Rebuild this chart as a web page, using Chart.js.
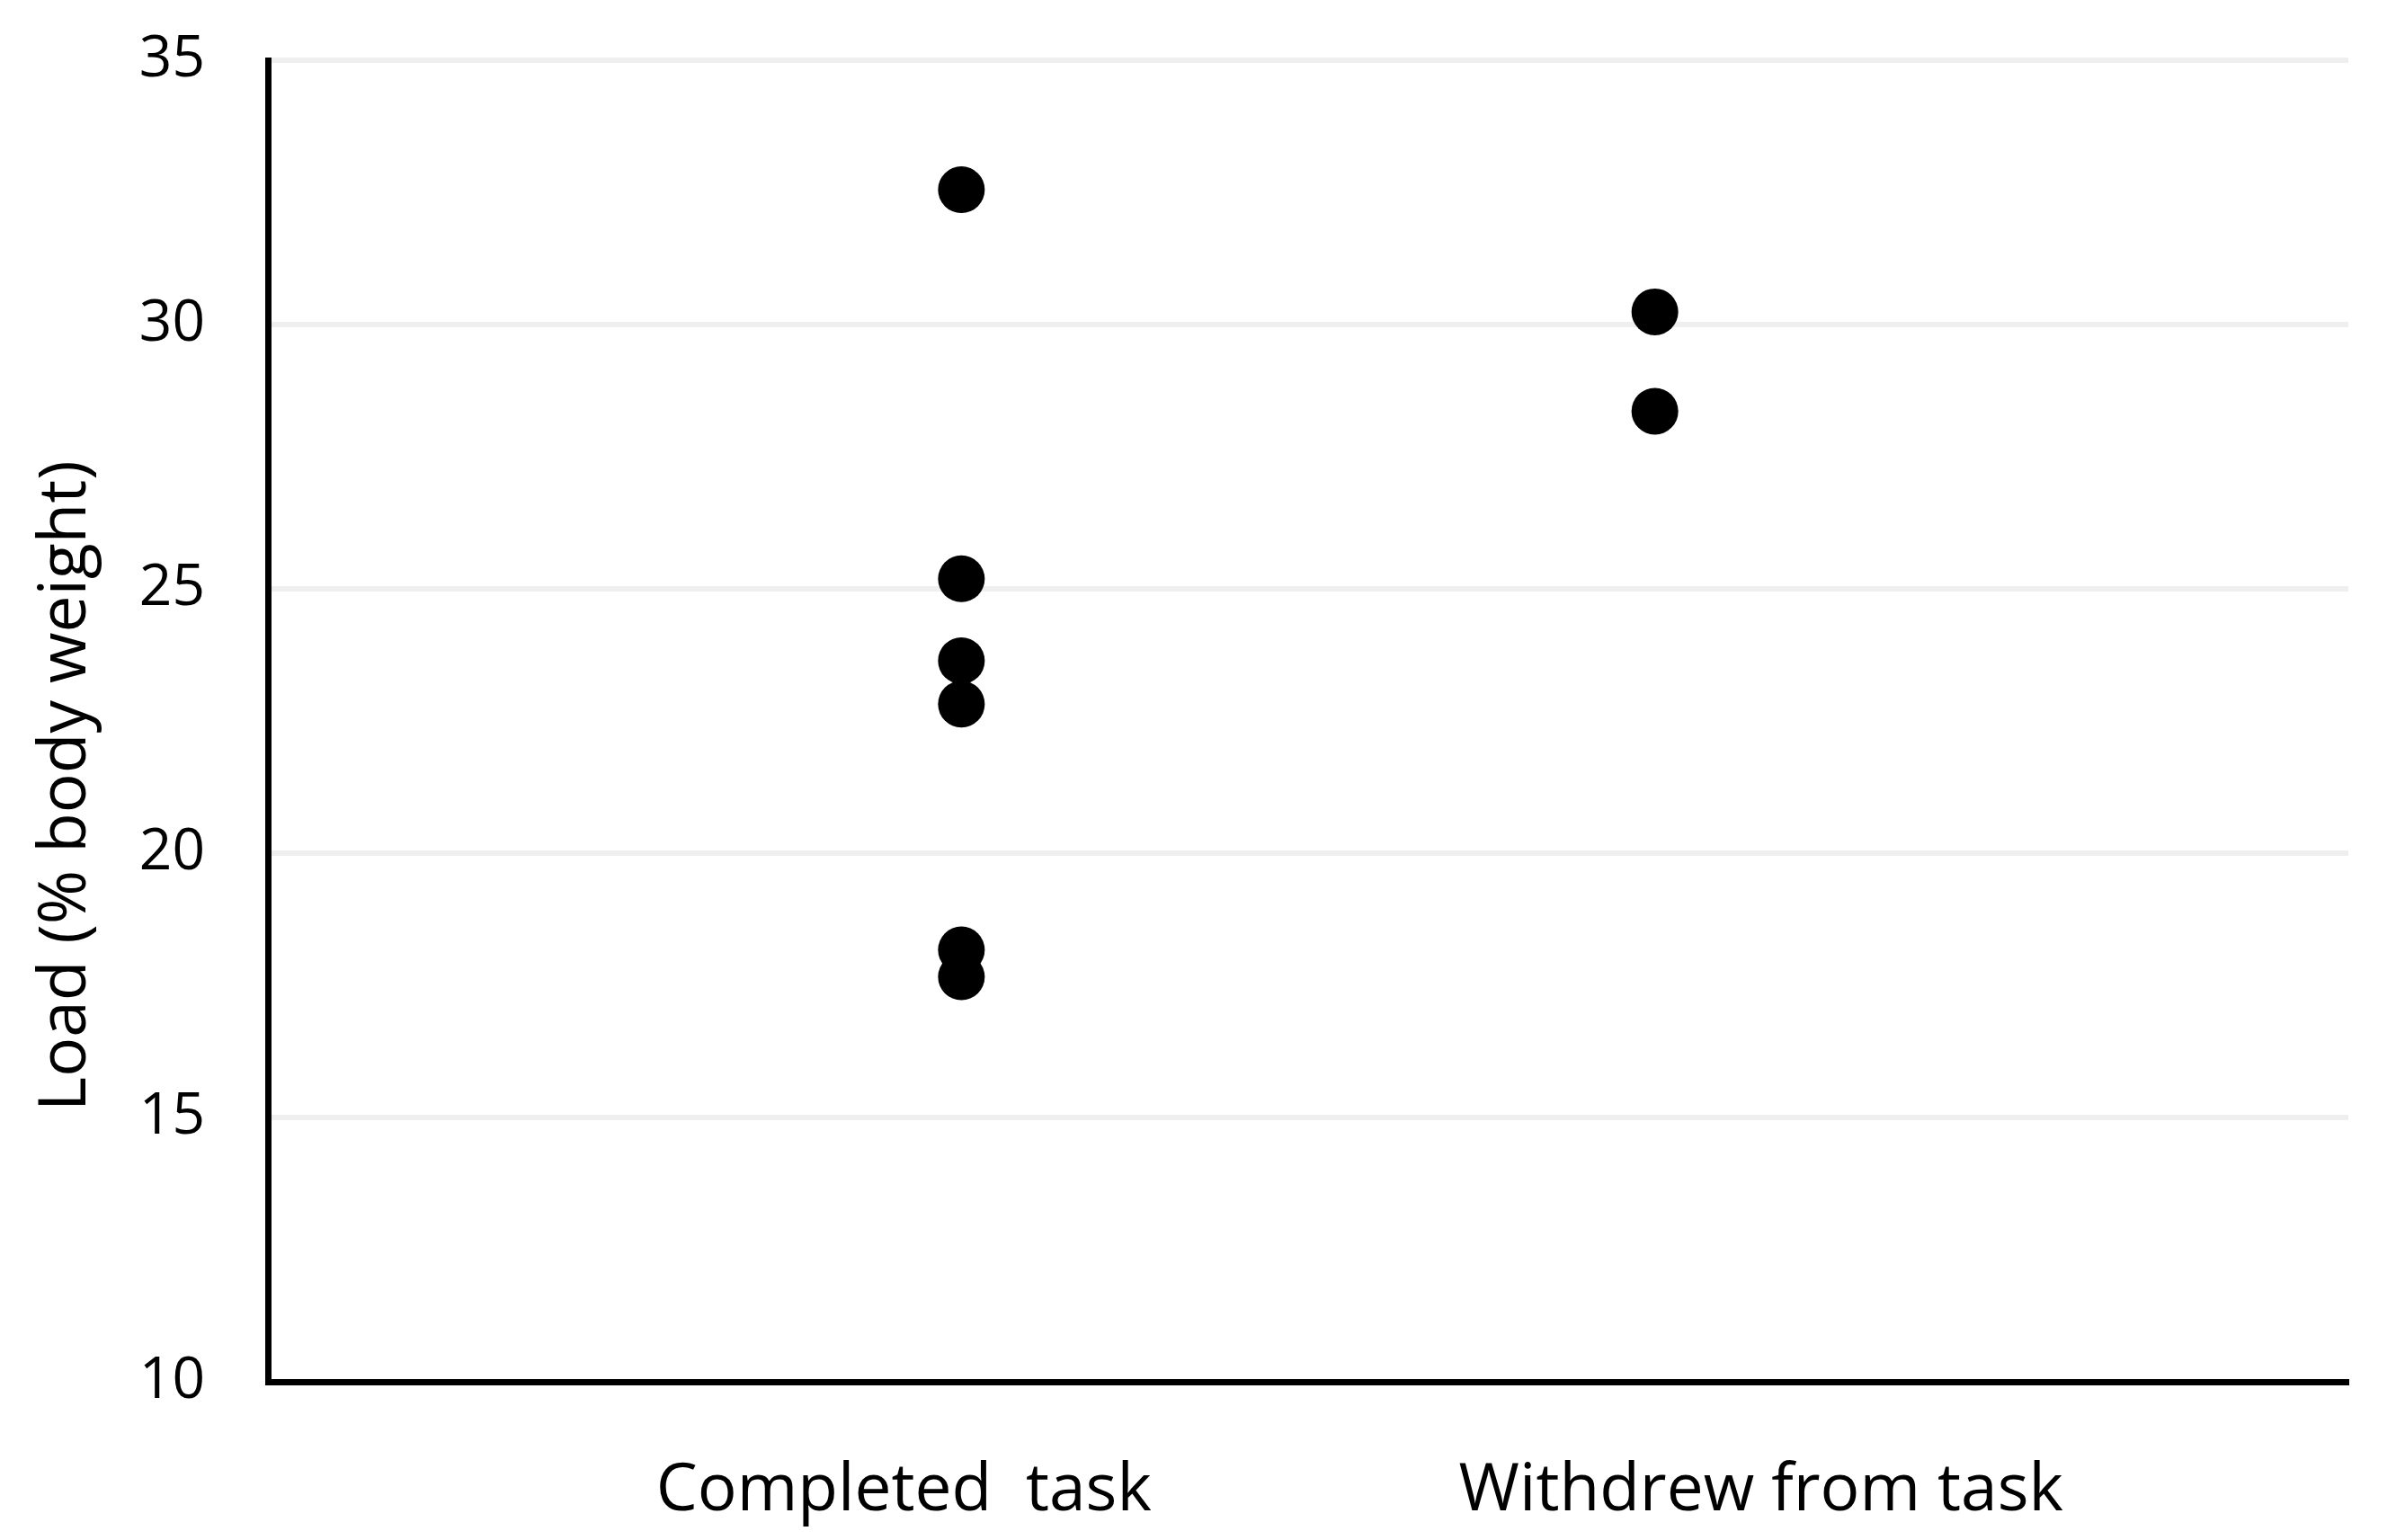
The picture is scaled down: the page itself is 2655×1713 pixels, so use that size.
<!DOCTYPE html>
<html lang="en">
  <head>
    <meta charset="UTF-8" />
    <title>Load by task outcome</title>
    <script src="https://cdn.jsdelivr.net/npm/chart.js"></script>
    <style>
      html, body { margin: 0; padding: 0; background: #fff; }
      #wrap { width: 2655px; height: 1713px; }
    </style>
  </head>
  <body>
    <div id="wrap"><canvas id="chart"></canvas></div>

    <script>
      // data
      const groups = ["Completed  task", "Withdrew from task"];
      const groupX = [1, 2];
      const completedLoad = [32.55, 25.19, 23.64, 22.82, 18.17, 17.66];
      const withdrewLoad = [30.24, 28.36];
      const yTicks = [10, 15, 20, 25, 30, 35];
      const yTitle = "Load (% body weight)";
      // where the category text sits along the x range (0..3)
      const labelX = [0.917, 2.153];

      const font = "'Open Sans', sans-serif";

      // y title sits a bit below the middle of the axis in the original,
      // so it is drawn by hand instead of by the scale
      const yTitlePlugin = {
        id: "yTitle",
        afterDraw(chart) {
          const { ctx, scales } = chart;
          const y = scales.y;
          ctx.save();
          ctx.translate(74, (y.top + y.bottom) / 2 + 72);
          ctx.rotate(-Math.PI / 2);
          ctx.font = "73px " + font;
          ctx.fillStyle = "#000";
          ctx.textAlign = "center";
          ctx.textBaseline = "middle";
          ctx.fillText(yTitle, 0, 0);
          ctx.restore();
        },
      };

      new Chart(document.getElementById("chart"), {
        type: "scatter",
        data: {
          datasets: [
            {
              label: groups[0],
              data: completedLoad.map((v) => ({ x: groupX[0], y: v })),
              backgroundColor: "#000",
              borderWidth: 0,
              pointRadius: 26,
            },
            {
              label: groups[1],
              data: withdrewLoad.map((v) => ({ x: groupX[1], y: v })),
              backgroundColor: "#000",
              borderWidth: 0,
              pointRadius: 26,
            },
          ],
        },
        options: {
          responsive: true,
          maintainAspectRatio: false,
          animation: false,
          layout: { padding: { top: 67, right: 43, left: 0, bottom: 0 } },
          plugins: { legend: { display: false }, tooltip: { enabled: false } },
          scales: {
            x: {
              type: "linear",
              min: 0,
              max: 3,
              afterBuildTicks: (s) => {
                s.ticks = labelX.map((v) => ({ value: v }));
              },
              afterFit: (s) => { s.height = 176; },
              grid: { display: false, drawTicks: false },
              border: { color: "#000", width: 7 },
              ticks: {
                color: "#000",
                padding: 78,
                maxRotation: 0,
                font: { family: font, size: 73 },
                callback: (v, i) => groups[i],
              },
            },
            y: {
              min: yTicks[0],
              max: yTicks[yTicks.length - 1],
              afterBuildTicks: (s) => {
                s.ticks = yTicks.map((v) => ({ value: v }));
              },
              afterFit: (s) => {
                s.width = 298;
                // tick padding would otherwise push the plot top down
                s.paddingTop = 30;
                s.paddingBottom = 30;
              },
              grid: { color: "#efefef", lineWidth: 6, drawTicks: false },
              border: { color: "#000", width: 7 },
              ticks: {
                color: "#000",
                padding: 70,
                font: { family: font, size: 64 },
              },
            },
          },
        },
        plugins: [yTitlePlugin],
      });
    </script>
  </body>
</html>
